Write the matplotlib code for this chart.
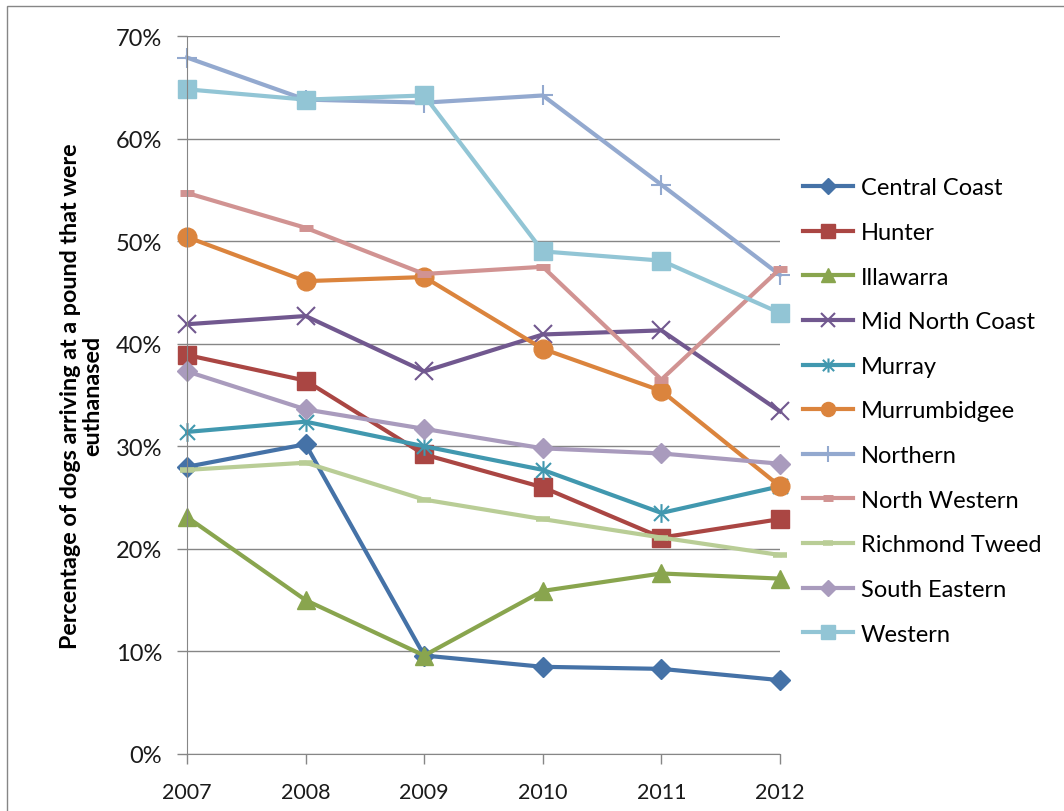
import matplotlib
matplotlib.use("Agg")
import matplotlib.pyplot as plt
from matplotlib.path import Path
from matplotlib.patches import Rectangle
from matplotlib.ticker import MultipleLocator, FuncFormatter

years = [2007, 2008, 2009, 2010, 2011, 2012]
central_coast = [28.0, 30.2, 9.6, 8.5, 8.3, 7.2]
hunter = [38.9, 36.4, 29.2, 26.0, 21.1, 22.9]
illawarra = [23.1, 15.0, 9.6, 15.9, 17.6, 17.1]
mid_north_coast = [41.9, 42.7, 37.3, 40.9, 41.3, 33.4]
murray = [31.4, 32.4, 30.0, 27.7, 23.5, 26.1]
murrumbidgee = [50.4, 46.1, 46.5, 39.5, 35.4, 26.1]
northern = [67.9, 63.8, 63.5, 64.2, 55.5, 46.7]
north_western = [54.7, 51.3, 46.8, 47.5, 36.5, 47.3]
richmond_tweed = [27.7, 28.4, 24.8, 22.9, 21.1, 19.4]
south_eastern = [37.3, 33.6, 31.7, 29.8, 29.3, 28.3]
western = [64.8, 63.8, 64.2, 49.0, 48.1, 43.0]

names = ["Central Coast", "Hunter", "Illawarra", "Mid North Coast", "Murray",
         "Murrumbidgee", "Northern", "North Western", "Richmond Tweed",
         "South Eastern", "Western"]
series = [central_coast, hunter, illawarra, mid_north_coast, murray,
          murrumbidgee, northern, north_western, richmond_tweed,
          south_eastern, western]

star = Path([(0, -1), (0, 1), (-0.8, -0.8), (0.8, 0.8), (-0.8, 0.8), (0.8, -0.8)],
            [Path.MOVETO, Path.LINETO, Path.MOVETO, Path.LINETO, Path.MOVETO, Path.LINETO])

styles = [
    dict(color="#4572A7", marker="D", ms=10.5),
    dict(color="#AA4643", marker="s", ms=12.5),
    dict(color="#89A54E", marker="^", ms=13.5),
    dict(color="#71588F", marker="x", ms=12.5, mew=1.5),
    dict(color="#4198AF", marker=star, ms=13.5, mew=1.5),
    dict(color="#DB843D", marker="o", ms=13.5),
    dict(color="#93A9CF", marker="+", ms=15, mew=1.5),
    dict(color="#D19392", marker="_", ms=10, mew=5),
    dict(color="#B9CD96", marker="_", ms=10, mew=4),
    dict(color="#A99BBD", marker="D", ms=10.5),
    dict(color="#92C5D5", marker="s", ms=13.5),
]

plt.rcParams['font.family'] = ['Lato', 'DejaVu Sans']

fig = plt.figure(figsize=(10.64, 8.12), dpi=100)
ax = fig.add_axes([187/1064, 57/812, (780-187)/1064, (755-37)/812])

for name, vals, st in zip(names, series, styles):
    ax.plot(years, vals, label=name, lw=3, color=st["color"], marker=st["marker"],
            markersize=st["ms"], markeredgewidth=st.get("mew", 1),
            markerfacecolor=st["color"], markeredgecolor=st["color"], clip_on=False)

ax.set_xlim(2007, 2012)
ax.set_ylim(0, 70)
ax.yaxis.set_major_locator(MultipleLocator(10))
ax.yaxis.set_major_formatter(FuncFormatter(lambda v, p: f"{int(round(v))}%"))
ax.set_xticks(years)
ax.grid(axis="y", color="#868686", lw=1)
ax.set_axisbelow(True)
for s in ["top", "right"]:
    ax.spines[s].set_visible(False)
for s in ["left", "bottom"]:
    ax.spines[s].set_color("#868686")
ax.tick_params(axis="both", colors="#868686", labelcolor="#1a1a1a", length=7, width=1)
ax.tick_params(axis="y", pad=11, labelsize=17)
ax.tick_params(axis="x", pad=13, labelsize=15.5)

ax.set_ylabel("Percentage of dogs arriving at a pound that were\neuthanased",
              fontsize=16.8, fontweight="bold", color="black", labelpad=9, linespacing=1.05)

leg = ax.legend(loc="center left", bbox_to_anchor=((803-187)/593, (755-412)/718), frameon=False,
                fontsize=17, handlelength=2.1, labelspacing=1.0, handletextpad=0.35,
                borderaxespad=0.0, borderpad=0.0, markerscale=0.75)

fig.patches.append(Rectangle((7/1064, -0.01), 1.02, 1.0 - 7/812 + 0.01, transform=fig.transFigure,
                             fill=False, edgecolor="#868686", lw=1))

fig.savefig("out.png", dpi=100)
